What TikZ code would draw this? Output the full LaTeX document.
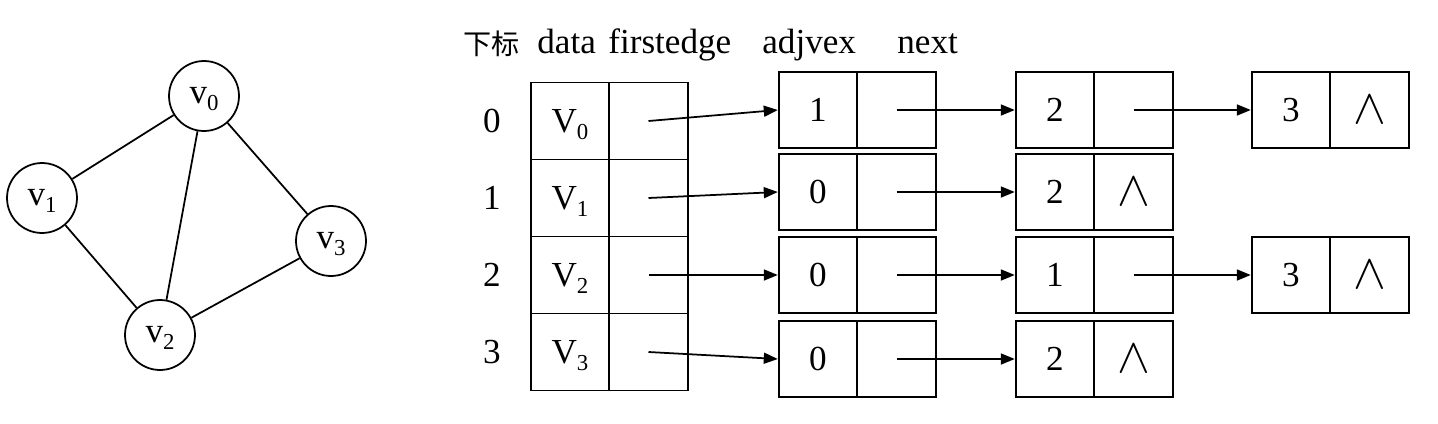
\documentclass[tikz,border=0pt]{standalone}
\usepackage{fontspec}
\setmainfont{Liberation Serif}
\newfontfamily\cjkfont{Noto Sans CJK SC}
\usetikzlibrary{arrows.meta}
\newcommand{\subidx}[1]{\raisebox{-4pt}[0pt][0pt]{\fontsize{13}{13}\selectfont #1}}
\newcommand{\nil}{\scalebox{1.35}{$\wedge$}}
\tikzset{
  cell/.style={draw, rectangle, line width=1.1pt, inner sep=0pt, minimum width=1.57cm, minimum height=1.54cm},
  edgecell/.style={cell, minimum height=1.52cm},
  vtx/.style={draw, circle, line width=1pt, inner sep=0pt, minimum size=1.4cm},
  ptr/.style={-{Triangle[length=0.28cm,width=0.22cm]}, line width=1pt},
  hd/.style={anchor=base west, inner sep=0pt},
}
\begin{document}
\begin{tikzpicture}[x=0.02cm, y=-0.02cm, font=\fontsize{20}{24}\selectfont]
    \useasboundingbox (0,0) rectangle (1438,423);
    % Graph
    \node[vtx] (v0) at (204,96) {v\subidx{0}};
    \node[vtx] (v1) at (42,198) {v\subidx{1}};
    \node[vtx] (v2) at (160,335) {v\subidx{2}};
    \node[vtx] (v3) at (331,241) {v\subidx{3}};
    \draw[line width=1pt] (v0) -- (v1);
    \draw[line width=1pt] (v0) -- (v2);
    \draw[line width=1pt] (v0) -- (v3);
    \draw[line width=1pt] (v1) -- (v2);
    \draw[line width=1pt] (v2) -- (v3);
    % Header
    \node[hd] (hIdx) at (463,54) {\cjkfont\fontsize{16}{18}\selectfont 下标};
    \node[hd] (hData) at (537,53) {data};
    \node[hd] (hFirst) at (608,53) {firstedge};
    \node[hd] (hAdj) at (762,53) {adjvex};
    \node[hd] (hNext) at (897,53) {next};
    % Vertex table
    \node (i0) at (492,121) {0};
    \node (i1) at (492,198) {1};
    \node (i2) at (492,275) {2};
    \node (i3) at (492,352) {3};
    \node[cell] (d0) at (570,121) {V\subidx{0}};
    \node[cell] (f0) at (648.5,121) {};
    \node[cell] (d1) at (570,198) {V\subidx{1}};
    \node[cell] (f1) at (648.5,198) {};
    \node[cell] (d2) at (570,275) {V\subidx{2}};
    \node[cell] (f2) at (648.5,275) {};
    \node[cell] (d3) at (570,352) {V\subidx{3}};
    \node[cell] (f3) at (648.5,352) {};
    % Edge nodes, first column
    \node[edgecell] (a01) at (818,110) {1};
    \node[edgecell] (n01) at (896.5,110) {};
    \node[edgecell] (a11) at (818,192) {0};
    \node[edgecell] (n11) at (896.5,192) {};
    \node[edgecell] (a21) at (818,275) {0};
    \node[edgecell] (n21) at (896.5,275) {};
    \node[edgecell] (a31) at (818,359) {0};
    \node[edgecell] (n31) at (896.5,359) {};
    % Edge nodes, second column
    \node[edgecell] (a02) at (1055,110) {2};
    \node[edgecell] (n02) at (1133.5,110) {};
    \node[edgecell] (a12) at (1055,192) {2};
    \node[edgecell] (n12) at (1133.5,192) {\nil};
    \node[edgecell] (a22) at (1055,275) {1};
    \node[edgecell] (n22) at (1133.5,275) {};
    \node[edgecell] (a32) at (1055,359) {2};
    \node[edgecell] (n32) at (1133.5,359) {\nil};
    % Edge nodes, third column
    \node[edgecell] (a03) at (1291,110) {3};
    \node[edgecell] (n03) at (1369.5,110) {\nil};
    \node[edgecell] (a23) at (1291,275) {3};
    \node[edgecell] (n23) at (1369.5,275) {\nil};
    % Pointers
    \draw[ptr] (f0.center) -- (a01.west);
    \draw[ptr] (f1.center) -- (a11.west);
    \draw[ptr] (f2.center) -- (a21.west);
    \draw[ptr] (f3.center) -- (a31.west);
    \draw[ptr] (n01.center) -- (a02.west);
    \draw[ptr] (n11.center) -- (a12.west);
    \draw[ptr] (n21.center) -- (a22.west);
    \draw[ptr] (n31.center) -- (a32.west);
    \draw[ptr] (n02.center) -- (a03.west);
    \draw[ptr] (n22.center) -- (a23.west);
\end{tikzpicture}
\end{document}
